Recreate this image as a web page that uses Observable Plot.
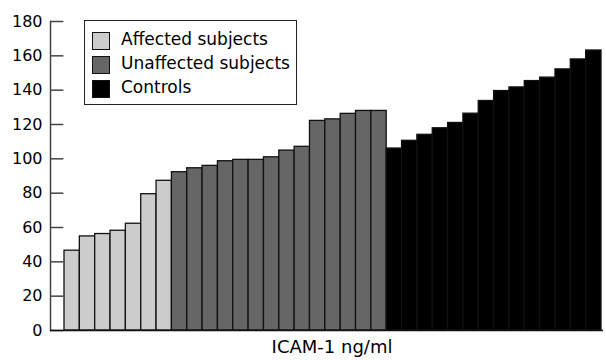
<!DOCTYPE html>
<html><head><meta charset="utf-8">
<script src="https://cdn.jsdelivr.net/npm/d3@7"></script>
<script src="https://cdn.jsdelivr.net/npm/@observablehq/plot@0.6"></script>
<style>
body{margin:0;background:#fff;}
#wrap{position:relative;width:606px;height:360px;font-family:"DejaVu Sans",sans-serif;}
#legend{position:absolute;left:84px;top:20px;width:211px;height:83px;border:1px solid #222;background:#fff;}
.row{position:absolute;left:7px;height:18px;display:flex;align-items:center;font-size:17px;color:#000;white-space:nowrap;}
.row span{position:relative;top:-2px;}
.sw{width:16px;height:16px;border:1px solid #111;margin-right:11px;flex:none;}
</style></head><body><div id="wrap"></div>
<script>
const groups = ["Affected subjects", "Unaffected subjects", "Controls"];
const groupColors = ["#cccccc", "#666666", "#000000"];
const affected = [46.5, 54.8, 56.2, 58.1, 62.2, 79.4, 87.2];
const unaffected = [92.2, 94.5, 95.9, 98.6, 99.4, 99.4, 100.9, 104.8, 107.0, 122.1, 123.0, 126.2, 127.9, 127.9];
const controls = [106.0, 110.5, 114.0, 117.8, 120.9, 126.3, 133.7, 139.5, 141.6, 145.3, 147.3, 152.1, 157.9, 163.1];
const yTicks = [0, 20, 40, 60, 80, 100, 120, 140, 160, 180];
const xLabel = "ICAM-1 ng/ml";

const data = [];
[affected, unaffected, controls].forEach((arr, g) => arr.forEach(v => data.push({id: data.length, group: groups[g], value: v})));

const chart = Plot.plot({
  width: 606, height: 360,
  marginLeft: 50, marginRight: 3, marginTop: 21, marginBottom: 30,
  style: {fontFamily: "DejaVu Sans, sans-serif", fontSize: "16px", color: "#000", background: "#fff"},
  x: {type: "band", domain: data.map(d => d.id), paddingInner: 0, paddingOuter: 0, round: false, insetLeft: 14, insetRight: 2, axis: null},
  y: {domain: [0, 180], ticks: yTicks, label: null},
  color: {domain: groups, range: groupColors},
  marks: [
    Plot.barY(data, {x: "id", y: "value", fill: "group", stroke: "#111", strokeWidth: 1.3}),
    Plot.axisY(yTicks, {tickSize: 0, tickPadding: 8, label: null, fontSize: 16}),
    Plot.tickY(yTicks, {y: d => d, x: () => data[0].id, dx: -14, insetRight: 2, stroke: "#444", strokeWidth: 1.5}),
    Plot.frame({anchor: "left", stroke: "#444", strokeWidth: 1.5}),
    Plot.ruleY([0], {stroke: "#111", strokeWidth: 1.5}),
    Plot.text([xLabel], {frameAnchor: "bottom", dy: 22, dx: 5, fontSize: 18, fill: "#000"})
  ]
});
const wrap = document.getElementById("wrap");
wrap.appendChild(chart);

const legend = document.createElement("div");
legend.id = "legend";
groups.forEach((g, i) => {
  const row = document.createElement("div");
  row.className = "row";
  row.style.top = (11 + i * 24) + "px";
  const sw = document.createElement("div");
  sw.className = "sw";
  sw.style.background = groupColors[i];
  const t = document.createElement("span");
  t.textContent = g;
  row.appendChild(sw); row.appendChild(t);
  legend.appendChild(row);
});
wrap.appendChild(legend);
</script></body></html>
